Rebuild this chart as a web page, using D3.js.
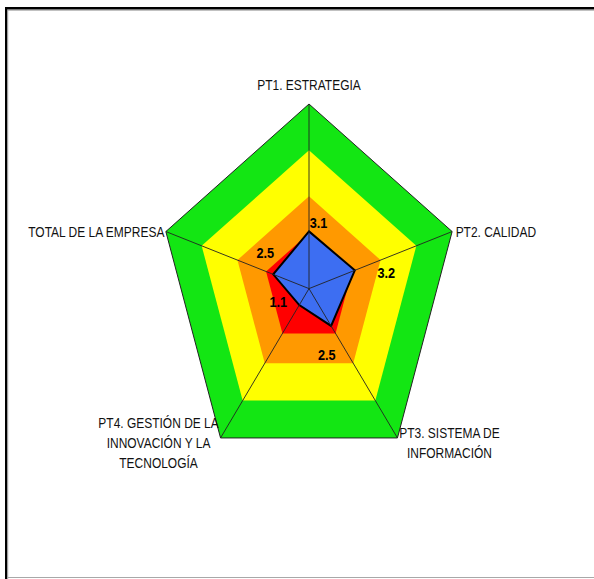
<!DOCTYPE html>
<html>
<head>
<meta charset="utf-8">
<script src="https://cdn.jsdelivr.net/npm/d3@7"></script>
<style>
  html, body { margin: 0; padding: 0; background: #fff; }
  svg { display: block; }
</style>
</head>
<body>
<svg id="chart" width="594" height="579"></svg>
<script>
// Axes of the diagnostic (clockwise from the top)
const axes = [
  ["PT1. ESTRATEGIA"],
  ["PT2. CALIDAD"],
  ["PT3. SISTEMA DE", "INFORMACIÓN"],
  ["PT4. GESTIÓN DE LA", "INNOVACIÓN Y LA", "TECNOLOGÍA"],
  ["TOTAL DE LA EMPRESA"]
];
// Company score on each axis
const scores = [3.1, 3.2, 2.5, 1.1, 2.5];
// Reference bands (outer limit of each filled ring)
const bandLimits = [10, 7.5, 5, 3];
const bandColors = ["#13e613", "#ffff00", "#ff9900", "#ff0000"];
const maxValue = 10;

const svg = d3.select("#chart");
const cx = 309, cy = 288.6;
const rx = d3.scaleLinear().domain([0, maxValue]).range([0, 150.5]);
const ry = d3.scaleLinear().domain([0, maxValue]).range([0, 184.6]);
const angle = d3.scaleLinear().domain([0, axes.length]).range([0, 2 * Math.PI]);

const pt = (v, i) => [cx + rx(v) * Math.sin(angle(i)), cy - ry(v) * Math.cos(angle(i))];
const ring = v => axes.map((_, i) => pt(v, i));
const poly = d3.line().curve(d3.curveLinearClosed);

// Frame
svg.append("rect").attr("x", 5).attr("y", 7).attr("width", 589).attr("height", 2.6).attr("fill", "#000");
svg.append("rect").attr("x", 7.5).attr("y", 9.6).attr("width", 586.5).attr("height", 1).attr("fill", "#999");
svg.append("rect").attr("x", 5).attr("y", 7).attr("width", 2.3).attr("height", 572).attr("fill", "#000");
svg.append("rect").attr("x", 7.3).attr("y", 9.6).attr("width", 0.9).attr("height", 570).attr("fill", "#999");
svg.append("rect").attr("x", 7.3).attr("y", 577).attr("width", 586.7).attr("height", 1).attr("fill", "#a8a8a8");

// Filled bands
svg.append("g").selectAll("path").data(bandLimits).join("path")
  .attr("d", v => poly(ring(v)))
  .attr("fill", (v, i) => bandColors[i])
  .attr("stroke", (v, i) => i === 0 ? "#222" : "none")
  .attr("stroke-width", 1);

// Score polygon
svg.append("path")
  .attr("d", poly(scores.map((v, i) => pt(v, i))))
  .attr("fill", "#3d6ef2")
  .attr("stroke", "#000")
  .attr("stroke-width", 2)
  .attr("stroke-linejoin", "miter");

// Spokes
svg.append("g").selectAll("line").data(axes).join("line")
  .attr("x1", cx).attr("y1", cy)
  .attr("x2", (d, i) => pt(maxValue, i)[0])
  .attr("y2", (d, i) => pt(maxValue, i)[1])
  .attr("stroke", "#222")
  .attr("stroke-width", 0.9);

const narrow = "scale(0.82,1)";

// Value labels
const valueOffsets = [[9.5, -8.5], [31.5, 2.3], [-4.4, 28], [-21, -3.3], [-8, -21.6]];
svg.append("g").selectAll("g").data(scores).join("g")
  .attr("transform", (v, i) => {
    const p = pt(v, i);
    return `translate(${p[0] + valueOffsets[i][0]},${p[1] + valueOffsets[i][1]}) ${narrow}`;
  })
  .append("text")
  .attr("text-anchor", "middle")
  .attr("dy", "0.36em")
  .attr("font-family", "'Liberation Sans', Arial, sans-serif")
  .attr("font-weight", "bold")
  .attr("font-size", 15.5)
  .attr("fill", "#000")
  .text(v => d3.format(".1f")(v));

// Axis labels: [anchor, dx, dy of first line centre] relative to the outer vertex
const axisLabelPos = [
  ["middle", 0, -19],
  ["start", 3.5, 0],
  ["middle", 52, -5],
  ["middle", -62, -15],
  ["end", -1.5, 0]
];
const lineGap = 20;
const lab = svg.append("g").selectAll("g").data(axes).join("g")
  .attr("transform", (d, i) => {
    const p = pt(maxValue, i);
    return `translate(${p[0] + axisLabelPos[i][1]},${p[1] + axisLabelPos[i][2]}) ${narrow}`;
  });
lab.append("text")
  .attr("text-anchor", (d, i) => axisLabelPos[i][0])
  .attr("font-family", "'Liberation Sans', Arial, sans-serif")
  .attr("font-size", 14.6)
  .attr("fill", "#111")
  .selectAll("tspan").data(d => d).join("tspan")
  .attr("x", 0)
  .attr("y", (d, j) => j * lineGap)
  .attr("dy", "0.36em")
  .text(d => d);
</script>
</body>
</html>
